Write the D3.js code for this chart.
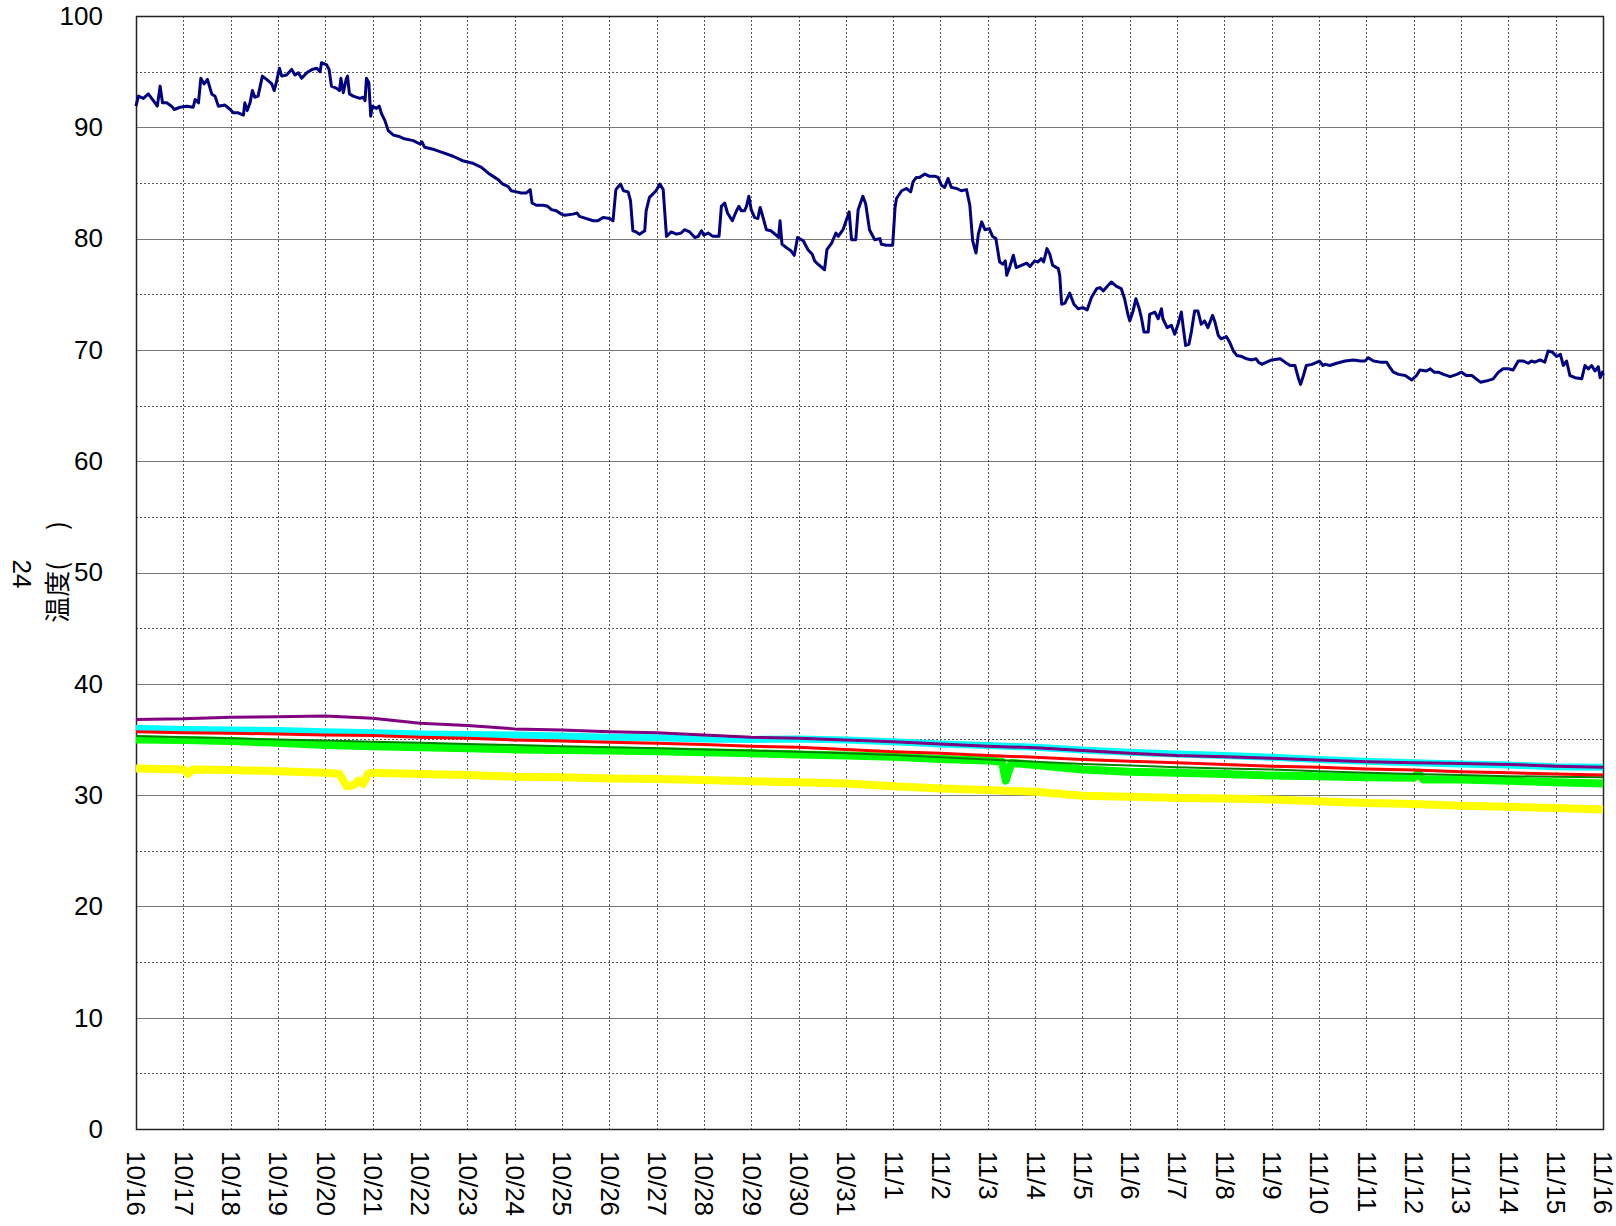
<!DOCTYPE html>
<head>
<meta charset="utf-8">
<title>温度</title>
</head>
<style>
body { margin: 0; background: #fff; }
svg { display: block; }
text { font-family: "Liberation Sans", Arial, sans-serif; fill: #000; }
</style>
<body>
<script src="https://d3js.org/d3.v7.min.js"></script>
<script>

// days since 10/16 and reading for the top (navy) series
var navyDay = [0,0.05,0.155,0.26,0.366,0.45,0.51,0.56,0.65,0.75,0.81,0.93,1.07,1.21,1.25,1.32,1.37,1.44,1.51,1.6,1.67,1.74,1.88,1.99,2.06,2.16,2.27,2.3,2.35,2.41,2.46,2.51,2.58,2.67,2.76,2.87,2.92,2.97,3.03,3.08,3.18,3.29,3.36,3.43,3.5,3.61,3.72,3.82,3.89,3.92,4.03,4.08,4.13,4.24,4.3,4.33,4.38,4.44,4.47,4.51,4.59,4.73,4.8,4.84,4.87,4.92,4.96,4.99,5.08,5.14,5.19,5.26,5.33,5.44,5.54,5.65,5.86,6.0,6.04,6.1,6.3,6.5,6.7,6.9,7.1,7.3,
  7.47,7.58,7.65,7.75,7.86,7.93,8.04,8.14,8.25,8.33,8.37,8.46,8.6,8.7,8.78,8.88,8.99,9.06,9.23,9.32,9.37,9.52,9.66,9.76,9.87,10.01,10.08,10.14,10.24,10.3,10.4,10.45,10.5,10.57,10.64,10.75,10.78,10.85,10.92,10.99,11.07,11.14,11.21,11.31,11.42,11.52,11.59,11.7,11.81,11.88,11.95,12.0,12.09,12.19,12.32,12.37,12.44,12.5,12.6,12.69,12.74,12.79,12.86,12.9,12.95,13.0,13.07,13.14,13.19,13.25,13.32,13.42,13.53,13.58,13.61,13.65,13.74,13.84,13.91,13.98,14.1,14.2,14.29,14.34,14.41,14.55,14.6,14.7,14.79,14.84,14.94,15.07,15.12,15.21,15.26,15.36,15.42,15.5,15.61,15.72,
  15.75,15.86,15.99,16.04,16.07,16.18,16.28,16.37,16.42,16.49,16.56,16.67,16.77,16.88,16.95,17.02,17.09,17.16,17.23,17.34,17.44,17.55,17.62,17.68,17.75,17.8,17.87,17.94,18.03,18.1,18.17,18.25,18.32,18.37,18.4,18.46,18.54,18.6,18.71,18.82,18.89,18.99,19.06,19.13,19.18,19.25,19.31,19.37,19.49,19.52,19.56,19.63,19.73,19.82,19.91,20.01,20.1,20.19,20.3,20.37,20.44,20.52,20.61,20.72,20.82,20.89,20.96,21.0,21.07,21.13,21.2,21.25,21.3,21.39,21.42,21.53,21.6,21.67,21.7,21.79,21.88,21.95,22.02,22.09,22.13,22.18,22.25,22.3,22.37,22.44,22.51,22.58,22.65,22.75,22.8,22.87,22.93,23.04,23.11,
  23.19,23.26,23.37,23.47,23.58,23.67,23.72,23.79,23.89,24.0,24.18,24.28,24.39,24.49,24.56,24.61,24.67,24.73,24.85,25.01,25.08,25.13,25.23,25.37,25.55,25.73,25.87,25.97,26.04,26.15,26.29,26.43,26.5,26.57,26.68,26.82,26.96,27.06,27.13,27.27,27.35,27.43,27.52,27.63,27.77,27.91,28.01,28.11,28.23,28.32,28.41,28.53,28.68,28.79,28.89,29.0,29.1,29.21,29.32,29.42,29.49,29.56,29.67,29.77,29.84,29.93,30.02,30.1,30.16,30.23,30.3,30.41,30.55,30.62,30.69,30.76,30.83,30.9,30.94,30.99,31.0];
var navyTemp = [91.9,92.8,92.6,93.0,92.4,91.9,93.7,92.2,92.2,91.9,91.6,91.8,91.9,91.8,92.5,92.2,94.4,93.9,94.3,93.0,92.8,91.9,92.0,91.6,91.3,91.3,91.1,92.2,91.5,92.2,93.3,92.7,92.8,94.6,94.3,93.9,93.3,94.1,95.3,94.6,94.7,95.2,94.7,94.9,94.4,94.9,95.2,95.3,95.0,95.8,95.6,95.2,93.7,93.5,93.3,94.4,93.1,94.3,94.6,93.0,92.8,92.6,92.7,92.4,94.4,94.0,91.0,91.9,91.7,91.9,91.2,90.6,89.7,89.3,89.2,89.0,88.8,88.5,88.7,88.2,88.0,87.7,87.4,87.0,86.8,86.4,
  85.8,85.5,85.3,84.9,84.7,84.3,84.2,84.1,84.1,84.4,83.2,83.0,83.0,82.9,82.6,82.5,82.2,82.1,82.2,82.3,82.0,81.8,81.6,81.6,81.9,81.8,81.6,84.4,84.9,84.3,84.2,83.4,80.7,80.6,80.4,80.7,82.5,83.7,84.0,84.3,84.9,84.4,80.2,80.6,80.4,80.5,80.8,80.6,80.1,80.2,80.7,80.3,80.5,80.2,80.2,82.9,83.2,82.3,81.6,82.5,82.9,82.5,82.5,82.9,83.8,82.6,81.9,81.8,82.8,81.9,80.8,80.7,80.3,80.1,81.6,79.5,79.2,78.9,78.5,80.1,79.8,79.0,78.6,78.0,77.7,77.2,79.0,79.6,80.5,80.2,80.8,82.4,79.9,79.9,82.6,83.8,83.1,80.8,79.9,80.0,
  79.5,79.4,79.4,82.8,83.6,84.3,84.5,84.2,85.1,85.5,85.5,85.8,85.6,85.6,85.5,84.8,84.6,85.4,84.6,84.5,84.3,84.4,83.0,79.8,78.7,80.4,81.5,80.8,80.9,80.2,80.0,77.9,77.7,78.0,76.7,77.4,78.5,77.4,77.6,77.8,77.5,78.0,77.9,78.2,77.9,79.1,78.6,77.6,77.3,76.7,74.1,74.2,75.1,74.1,73.7,73.8,73.6,74.7,75.5,75.6,75.3,75.7,76.1,75.7,75.5,74.6,73.2,72.6,73.5,74.6,73.7,72.8,71.6,71.6,73.2,73.4,72.8,73.7,72.8,72.0,72.2,71.4,72.3,73.4,72.0,70.4,70.5,71.6,73.5,73.5,72.3,72.6,72.0,73.1,72.5,71.3,71.0,71.2,70.7,
  69.9,69.5,69.4,69.2,69.1,69.2,68.9,68.7,68.9,69.1,69.2,68.9,68.6,68.6,67.5,66.9,67.7,68.6,68.7,69.0,68.6,68.7,68.6,68.8,69.0,69.1,69.0,69.0,69.3,69.0,68.9,68.9,68.4,68.0,67.8,67.7,67.3,67.7,68.2,68.1,68.3,68.0,68.0,67.8,67.6,67.8,68.0,67.7,67.7,67.4,67.1,67.2,67.4,68.0,68.3,68.3,68.2,69.0,69.0,68.8,69.0,68.9,69.1,68.9,69.9,69.8,69.4,69.6,68.6,69.0,67.7,67.5,67.4,68.6,68.3,68.6,68.1,68.5,67.5,68.0,67.7];

// lower series, one reading per day
var lowDay = [0,1,2,3,4,5,6,7,8,9,10,11,12,13,14,15,16,17,18,19,20,21,22,23,24,25,26,27,28,29,30,31];
var purpleTemp = [36.8,36.85,37.0,37.05,37.1,36.9,36.45,36.25,35.95,35.85,35.7,35.6,35.4,35.2,35.1,34.95,34.8,34.6,34.4,34.25,34.0,33.75,33.55,33.45,33.3,33.15,33.0,32.9,32.85,32.75,32.6,32.5];
var cyanTemp = [36.0,35.9,35.85,35.8,35.7,35.6,35.5,35.45,35.4,35.3,35.2,35.15,35.05,35.0,35.05,34.95,34.8,34.6,34.45,34.3,34.05,33.85,33.7,33.55,33.4,33.2,33.05,32.9,32.8,32.7,32.55,32.5];
var redTemp = [35.7,35.6,35.55,35.5,35.4,35.35,35.2,35.1,34.95,34.85,34.75,34.65,34.55,34.4,34.3,34.1,33.9,33.75,33.55,33.4,33.2,33.05,32.9,32.75,32.6,32.5,32.35,32.25,32.1,32.0,31.9,31.8];
var darkGreenTemp = [35.3,35.2,35.1,35.0,34.9,34.8,34.7,34.6,34.5,34.4,34.3,34.2,34.1,34.0,33.9,33.75,33.6,33.4,33.2,33.0,32.8,32.65,32.5,32.4,32.3,32.15,32.0,31.9,31.8,31.7,31.65,31.6];
var greenDay = [0,1,2,3,4,5,6,7,8,9,10,11,12,13,14,15,16,17,18,18.3,18.38,18.5,19,20,21,22,23,24,25,26,27,27.1,27.2,28,29,30,31];
var greenTemp = [35.0,34.95,34.85,34.7,34.5,34.4,34.3,34.2,34.1,34.05,34.0,33.95,33.85,33.75,33.65,33.55,33.45,33.25,33.1,33.0,31.3,32.9,32.7,32.3,32.1,32.0,31.9,31.75,31.7,31.6,31.55,32.0,31.4,31.4,31.3,31.15,31.05];
var yellowDay = [0,1,1.1,1.2,2,3,4,4.3,4.45,4.6,4.7,4.8,4.9,5,6,7,8,9,10,11,12,13,14,15,16,17,18,19,20,21,22,23,24,25,26,27,28,29,30,31];
var yellowTemp = [32.4,32.3,31.9,32.3,32.25,32.15,32.0,31.9,30.8,30.9,31.3,31.0,31.9,32.0,31.9,31.8,31.65,31.6,31.5,31.45,31.35,31.25,31.15,31.05,30.8,30.6,30.45,30.3,29.95,29.85,29.75,29.7,29.6,29.45,29.3,29.2,29.05,28.95,28.85,28.7];

var yTicks = [0,10,20,30,40,50,60,70,80,90,100];

var width = 1616, height = 1226;
var margin = {top: 16, right: 13, bottom: 97, left: 136};
var start = new Date(2009, 9, 16), end = new Date(2009, 10, 16);

function toDate(d) { return new Date(start.getTime() + d * 86400000); }

var x = d3.scaleTime().domain([start, end]).range([margin.left, width - margin.right]);
var y = d3.scaleLinear().domain([0, 100]).range([height - margin.bottom, margin.top]);

var svg = d3.select("body").append("svg")
  .attr("width", width)
  .attr("height", height);

// grid
var grid = svg.append("g");
grid.selectAll("line.h")
  .data(d3.range(5, 100, 5))
  .enter().append("line")
  .attr("x1", margin.left).attr("x2", width - margin.right)
  .attr("y1", function(d) { return Math.round(y(d)) + 0.5; })
  .attr("y2", function(d) { return Math.round(y(d)) + 0.5; })
  .attr("stroke", function(d) { return d % 10 == 0 ? "#7a7a7a" : "#555"; })
  .attr("stroke-dasharray", function(d) { return d % 10 == 0 ? null : "2,2"; });

var days = d3.timeDay.range(d3.timeDay.offset(start, 1), end);
grid.selectAll("line.v")
  .data(days)
  .enter().append("line")
  .attr("y1", margin.top).attr("y2", height - margin.bottom)
  .attr("x1", function(d) { return Math.round(x(d)) + 0.5; })
  .attr("x2", function(d) { return Math.round(x(d)) + 0.5; })
  .attr("stroke", "#555")
  .attr("stroke-dasharray", "2,2");

// frame
svg.append("rect")
  .attr("x", margin.left + 0.5).attr("y", margin.top + 0.5)
  .attr("width", width - margin.left - margin.right)
  .attr("height", height - margin.top - margin.bottom)
  .attr("fill", "none").attr("stroke", "#222").attr("stroke-width", 1.5);

// axes
var yAxis = d3.axisLeft(y).tickValues(yTicks).tickSize(0).tickPadding(33);
var yg = svg.append("g").attr("transform", "translate(" + margin.left + ",0)").call(yAxis);
yg.select(".domain").remove();
yg.selectAll("text").style("font-size", "26px").attr("font-family", null);

var xAxis = d3.axisBottom(x).ticks(d3.timeDay.every(1)).tickFormat(d3.timeFormat("%-m/%-d")).tickSize(0);
var xg = svg.append("g").attr("transform", "translate(0," + (height - margin.bottom) + ")").call(xAxis);
xg.select(".domain").remove();
xg.selectAll("text")
  .style("font-size", "26px")
  .attr("font-family", null)
  .attr("text-anchor", "start")
  .attr("dy", "0.35em")
  .attr("y", 0)
  .attr("transform", "translate(0,22) rotate(90)");

// y title
svg.append("text")
  .attr("transform", "translate(58,572) rotate(-90)")
  .attr("text-anchor", "middle")
  .attr("dy", "0.35em")
  .style("font-family", "'Noto Sans CJK JP', sans-serif")
  .style("font-size", "26px")
  .text("温度(\u3000 )");
svg.append("text")
  .attr("transform", "translate(22,574) rotate(90)")
  .attr("text-anchor", "middle")
  .attr("dy", "0.35em")
  .style("font-size", "26px")
  .text("24");

// series
var line = d3.line()
  .x(function(d) { return x(toDate(d[0])); })
  .y(function(d) { return y(d[1]); });

function pairs(ds, vs) { return ds.map(function(d, i) { return [d, vs[i]]; }); }

var series = [
  {data: pairs(yellowDay, yellowTemp), color: "#ffff00", w: 8},
  {data: pairs(greenDay, greenTemp), color: "#00ff00", w: 8},
  {data: pairs(lowDay, darkGreenTemp), color: "#008000", w: 2},
  {data: pairs(lowDay, cyanTemp), color: "#00ffff", w: 7},
  {data: pairs(lowDay, redTemp), color: "#ff0000", w: 3},
  {data: pairs(lowDay, purpleTemp), color: "#800080", w: 3},
  {data: pairs(navyDay, navyTemp), color: "#000080", w: 3}
];

svg.append("g").selectAll("path")
  .data(series)
  .enter().append("path")
  .attr("fill", "none")
  .attr("stroke", function(d) { return d.color; })
  .attr("stroke-width", function(d) { return d.w; })
  .attr("stroke-linejoin", "round")
  .attr("d", function(d) { return line(d.data); });

</script>
</body>
